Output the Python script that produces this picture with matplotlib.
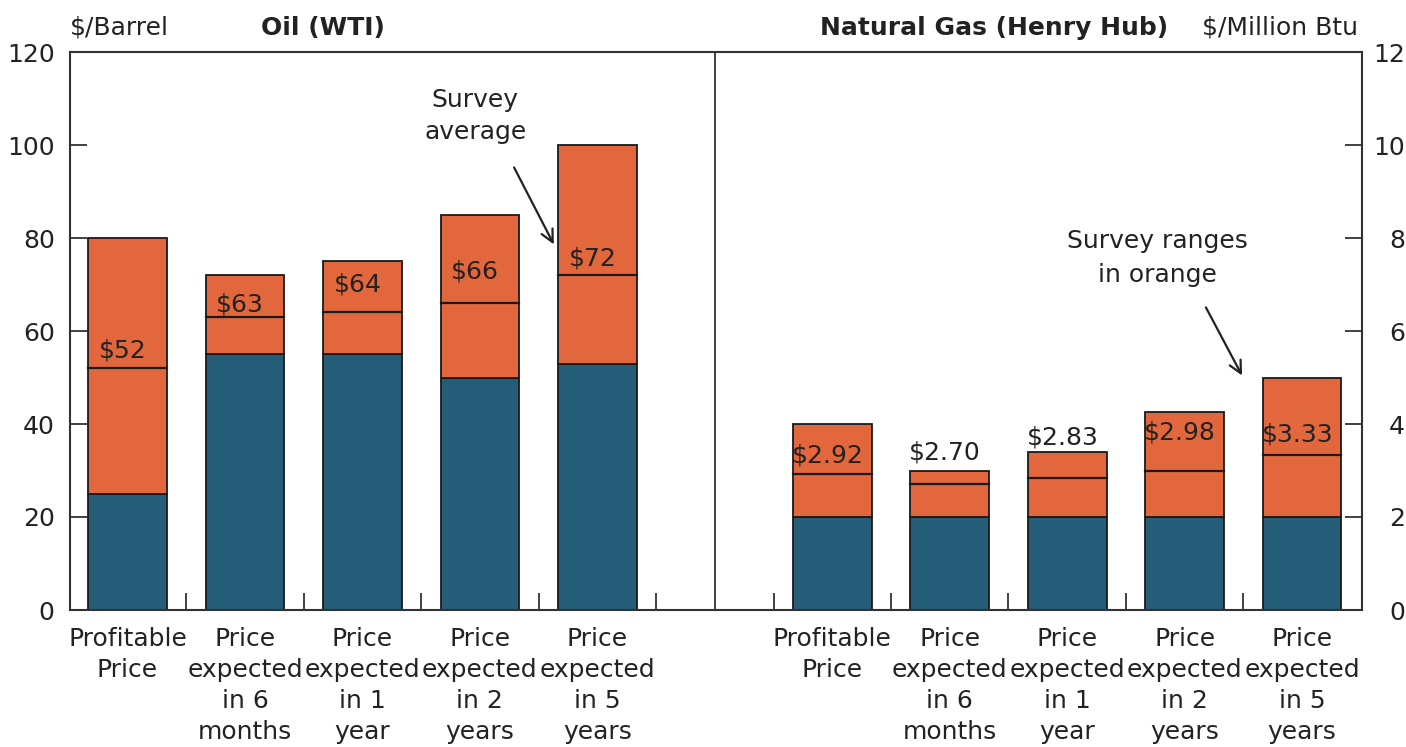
import matplotlib
matplotlib.use("Agg")
import matplotlib.pyplot as plt

# ---- data ----
categories = ["Profitable\nPrice", "Price\nexpected\nin 6\nmonths", "Price\nexpected\nin 1\nyear",
              "Price\nexpected\nin 2\nyears", "Price\nexpected\nin 5\nyears"]
oil_low = [25, 55, 55, 50, 53]
oil_high = [80, 72, 75, 85, 100]
oil_avg = [52, 63, 64, 66, 72]
oil_labels = ["$52", "$63", "$64", "$66", "$72"]
gas_low = [2.0, 2.0, 2.0, 2.0, 2.0]
gas_high = [4.0, 3.0, 3.4, 4.25, 5.0]
gas_avg = [2.92, 2.70, 2.83, 2.98, 3.33]
gas_labels = ["$2.92", "$2.70", "$2.83", "$2.98", "$3.33"]

# ---- layout (not data) ----
oil_x = [0, 1, 2, 3, 4]
gas_x = [6, 7, 8, 9, 10]
oil_label_y = [55.9, 65.8, 69.9, 72.9, 75.5]      # left-axis units
gas_label_y = [3.33, 3.38, 3.72, 3.81, 3.78]      # right-axis units
GAS_SCALE = 10.0

BLUE = "#255C78"
ORANGE = "#E2673D"
EDGE = "#1a1a1a"
TXT = "#222222"
FS = 18

plt.rcParams['font.family'] = ['DejaVu Sans']

fig = plt.figure(figsize=(14.06, 7.47), dpi=100)
ax = fig.add_axes([70/1406, 1-610/747, (1362-70)/1406, (610-52)/747])
width = 0.67

def draw(xs, low, high, avg, labels, label_y, scale):
    for x, lo, hi, av, lab, ly in zip(xs, low, high, avg, labels, label_y):
        ax.bar(x, lo*scale, width=width, color=BLUE, edgecolor=EDGE, linewidth=1.3, zorder=2)
        ax.bar(x, (hi-lo)*scale, bottom=lo*scale, width=width, color=ORANGE,
               edgecolor=EDGE, linewidth=1.3, zorder=2)
        ax.plot([x-width/2, x+width/2], [av*scale, av*scale], color=EDGE, lw=1.6, zorder=3)
        ax.text(x-0.04, ly*scale, lab, ha='center', va='center', fontsize=FS, color=TXT, zorder=4)

draw(oil_x, oil_low, oil_high, oil_avg, oil_labels, oil_label_y, 1.0)
draw(gas_x, gas_low, gas_high, gas_avg, gas_labels, gas_label_y, GAS_SCALE)

ax.set_xlim(-0.49, 10.51)
ax.set_ylim(0, 120)
ax.axvline(5, color="#333333", lw=1.3, zorder=1)

# ticks
ax.set_yticks(range(0, 121, 20))
ax.tick_params(axis='y', direction='in', length=12, width=1.3, pad=11, labelsize=FS,
               colors="#333333", labelcolor=TXT)
ax.set_xticks([i + 0.5 for i in range(5)] + [i + 0.5 for i in range(5, 10)])
ax.set_xticklabels([])
ax.tick_params(axis='x', direction='in', length=12, width=1.3, colors="#333333")
for s in ax.spines.values():
    s.set_color("#333333")
    s.set_linewidth(1.5)

# category labels
for x, c in zip(oil_x + gas_x, categories + categories):
    ax.text(x, -3.6, c, ha='center', va='top', fontsize=FS, color=TXT, linespacing=1.38,
            transform=ax.transData, clip_on=False)

ax2 = ax.twinx()
ax2.set_ylim(0, 12)
ax2.set_yticks(range(0, 13, 2))
ax2.tick_params(axis='y', direction='in', length=12, width=1.3, pad=31, labelsize=FS,
                colors="#333333", labelcolor=TXT)
for lbl in ax2.get_yticklabels():
    lbl.set_horizontalalignment('right')
for s in ax2.spines.values():
    s.set_visible(False)

# titles
fig.text(70/1406, 1-28/747, "$/Barrel", ha='left', va='center', fontsize=FS, color=TXT)
fig.text(385/1406, 1-28/747, "Oil (WTI)", ha='right', va='center', fontsize=FS, color=TXT,
         fontweight='bold')
fig.text(1168/1406, 1-28/747, "Natural Gas (Henry Hub)", ha='right', va='center', fontsize=FS,
         color=TXT, fontweight='bold')
fig.text(1358/1406, 1-28/747, "$/Million Btu", ha='right', va='center', fontsize=FS, color=TXT)

# annotations
ax.text(2.96, 106.2, "Survey\naverage", ha='center', va='center', fontsize=FS, color=TXT,
        linespacing=1.45)
ax.annotate("", xy=(3.64, 78.1), xytext=(3.28, 95.7),
            arrowprops=dict(arrowstyle='->', color='#222222', lw=1.6,
                            mutation_scale=22))
ax.text(8.77, 75.7, "Survey ranges\nin orange", ha='center', va='center', fontsize=FS, color=TXT,
        linespacing=1.55)
ax.annotate("", xy=(9.50, 49.9), xytext=(9.17, 65.6),
            arrowprops=dict(arrowstyle='->', color='#222222', lw=1.6,
                            mutation_scale=22))

fig.savefig("out.png", dpi=100)
